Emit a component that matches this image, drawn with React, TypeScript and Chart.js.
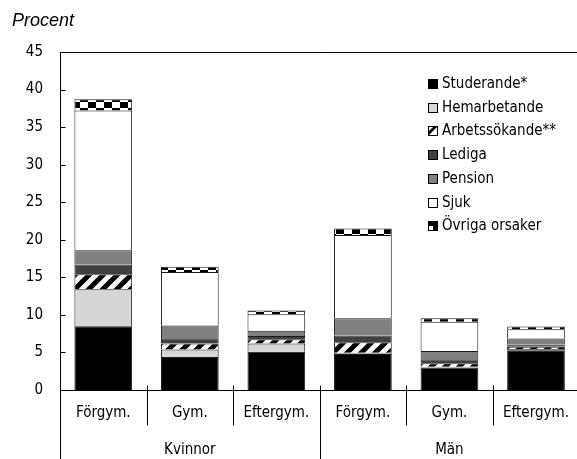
import React, { useEffect, useRef } from "react";
import { Chart, registerables } from "chart.js";

Chart.register(...registerables);

const categories = ["Förgym.", "Gym.", "Eftergym.", "Förgym.", "Gym.", "Eftergym."];
const groups = ["Kvinnor", "Män"];
const seriesNames = ["Studerande*", "Hemarbetande", "Arbetssökande**", "Lediga", "Pension", "Sjuk", "Övriga orsaker"];
const studerande = [8.5, 4.4, 5.1, 4.8, 3.0, 5.3];
const hemarbetande = [4.9, 1.0, 1.1, 0.15, 0.1, 0.15];
const arbetssokande = [2.0, 0.8, 0.55, 1.4, 0.45, 0.3];
const lediga = [1.3, 0.7, 0.45, 0.9, 0.55, 0.3];
const pension = [1.9, 1.7, 0.7, 2.3, 1.1, 0.8];
const sjuk = [18.6, 7.1, 2.2, 11.1, 3.9, 1.25];
const ovriga = [1.5, 0.7, 0.5, 0.85, 0.45, 0.35];
const yTitle = "Procent";
const yMin = 0;
const yMax = 45;
const yStep = 5;

const FONT = '"Liberation Sans Narrow", "DejaVu Sans Condensed", sans-serif';
const FS = 15;

function stripePattern(ctx: CanvasRenderingContext2D): CanvasPattern | string {
  const c = document.createElement("canvas");
  c.width = 14;
  c.height = 14;
  const g = c.getContext("2d")!;
  g.fillStyle = "#fff";
  g.fillRect(0, 0, 14, 14);
  g.strokeStyle = "#000";
  g.lineWidth = 5;
  for (const k of [-14, 0, 14]) {
    g.beginPath();
    g.moveTo(k - 2, 16);
    g.lineTo(k + 16, -2);
    g.stroke();
  }
  return ctx.createPattern(c, "repeat") || "#888";
}

function checkerPattern(ctx: CanvasRenderingContext2D): CanvasPattern | string {
  const c = document.createElement("canvas");
  c.width = 16;
  c.height = 12;
  const g = c.getContext("2d")!;
  g.fillStyle = "#fff";
  g.fillRect(0, 0, 16, 12);
  g.fillStyle = "#000";
  g.fillRect(0, 0, 8, 6);
  g.fillRect(8, 6, 8, 6);
  return ctx.createPattern(c, "repeat") || "#444";
}

const decorPlugin = {
  id: "decor",
  afterDraw(chart: any) {
    const { ctx, chartArea: a } = chart;
    const y = chart.scales.y;
    const x = chart.scales.x;
    ctx.save();
    ctx.strokeStyle = "#000";
    ctx.lineWidth = 1;
    const L = Math.round(a.left) + 0.5;
    const T = Math.round(a.top) + 0.5;
    const B = Math.round(a.bottom) + 0.5;
    ctx.beginPath();
    ctx.moveTo(L, T);
    ctx.lineTo(L, chart.height);
    ctx.moveTo(L, T);
    ctx.lineTo(chart.width, T);
    ctx.moveTo(L, B);
    ctx.lineTo(chart.width, B);
    ctx.stroke();
    ctx.beginPath();
    for (let v = yMin; v <= yMax; v += yStep) {
      const py = Math.round(y.getPixelForValue(v)) + 0.5;
      ctx.moveTo(L, py);
      ctx.lineTo(L + 5, py);
    }
    ctx.stroke();
    ctx.beginPath();
    for (let i = 1; i < categories.length; i++) {
      const px = Math.round((x.getPixelForValue(i - 1) + x.getPixelForValue(i)) / 2) + 0.5;
      const groupBreak = i === categories.length / 2;
      ctx.moveTo(px, B - 5);
      ctx.lineTo(px, groupBreak ? chart.height : B + 35);
    }
    ctx.stroke();
    ctx.fillStyle = "#000";
    ctx.font = 'italic 18px "Liberation Sans", Arial, sans-serif';
    ctx.textBaseline = "alphabetic";
    ctx.textAlign = "left";
    ctx.fillText(yTitle, 12, 26);
    const ds = chart.data.datasets;
    ctx.font = FS + "px " + FONT;
    ctx.textBaseline = "middle";
    const bx = 428;
    const tx = 442;
    const y0 = 84;
    const step = 23.7;
    ds.forEach((d: any, i: number) => {
      const cy = Math.round(y0 + i * step);
      const by = cy - 5;
      ctx.fillStyle = "#fff";
      ctx.fillRect(bx, by, 10, 10);
      if (i === 2) {
        ctx.fillStyle = "#000";
        ctx.beginPath();
        ctx.moveTo(bx, by + 10);
        ctx.lineTo(bx, by + 6);
        ctx.lineTo(bx + 6, by);
        ctx.lineTo(bx + 10, by);
        ctx.closePath();
        ctx.fill();
      } else if (i === 6) {
        ctx.fillStyle = "#000";
        ctx.fillRect(bx, by, 10, 5);
        ctx.fillRect(bx + 5, by + 5, 5, 5);
      } else {
        ctx.fillStyle = d.legendColor;
        ctx.fillRect(bx, by, 10, 10);
      }
      ctx.strokeStyle = "#000";
      ctx.strokeRect(bx + 0.5, by + 0.5, 9, 9);
      ctx.fillStyle = "#000";
      ctx.fillText(seriesNames[i], tx, cy);
    });
    ctx.restore();
  },
};

export default function App() {
  const ref = useRef<HTMLCanvasElement | null>(null);
  useEffect(() => {
    const canvas = ref.current;
    if (!canvas) return;
    const ctx = canvas.getContext("2d")!;
    const stripes = stripePattern(ctx);
    const checker = checkerPattern(ctx);
    const values = [studerande, hemarbetande, arbetssokande, lediga, pension, sjuk, ovriga];
    const fills: any[] = ["#000000", "#d6d6d6", stripes, "#404040", "#808080", "#ffffff", checker];
    const legendColors = ["#000000", "#d6d6d6", "#fff", "#404040", "#808080", "#ffffff", "#000"];
    const tickFont = { family: FONT, size: FS };
    const chart = new Chart(canvas, {
      type: "bar",
      data: {
        labels: categories,
        datasets: values.map((v, i) => ({
          label: seriesNames[i],
          data: v,
          backgroundColor: fills[i],
          borderColor: "#1a1a1a",
          borderWidth: 1,
          barPercentage: 0.667,
          categoryPercentage: 1,
          legendColor: legendColors[i],
        })) as any,
      },
      options: {
        animation: false,
        responsive: false,
        devicePixelRatio: 1,
        layout: { padding: { top: 52, right: 1, left: 0, bottom: 0 } },
        plugins: { legend: { display: false }, tooltip: { enabled: false }, title: { display: false } },
        scales: {
          x: {
            type: "category",
            stacked: true,
            offset: true,
            weight: 1,
            grid: { display: false, drawTicks: false },
            border: { display: false },
            ticks: { autoSkip: false, maxRotation: 0, color: "#000", font: tickFont, padding: 14 },
            afterFit: (s: any) => { s.height = 40; },
          },
          xg: {
            type: "category",
            position: "bottom",
            labels: groups,
            offset: true,
            weight: 2,
            grid: { display: false, drawTicks: false },
            border: { display: false },
            ticks: { autoSkip: false, maxRotation: 0, color: "#000", font: tickFont, padding: 11 },
            afterFit: (s: any) => { s.height = 29; },
          },
          y: {
            stacked: true,
            min: yMin,
            max: yMax,
            grid: { display: false, drawTicks: false },
            border: { display: false },
            ticks: { stepSize: yStep, color: "#000", font: tickFont, padding: 17 },
            afterFit: (s: any) => { s.width = 60; },
          },
        } as any,
      },
      plugins: [decorPlugin],
    });
    return () => chart.destroy();
  }, []);
  return (
    <div style={{ position: "fixed", left: 0, top: 0, width: 577, height: 459, overflow: "hidden", background: "#fff" }}>
      <canvas ref={ref} width={583} height={459} style={{ width: 583, height: 459, display: "block" }} />
    </div>
  );
}
